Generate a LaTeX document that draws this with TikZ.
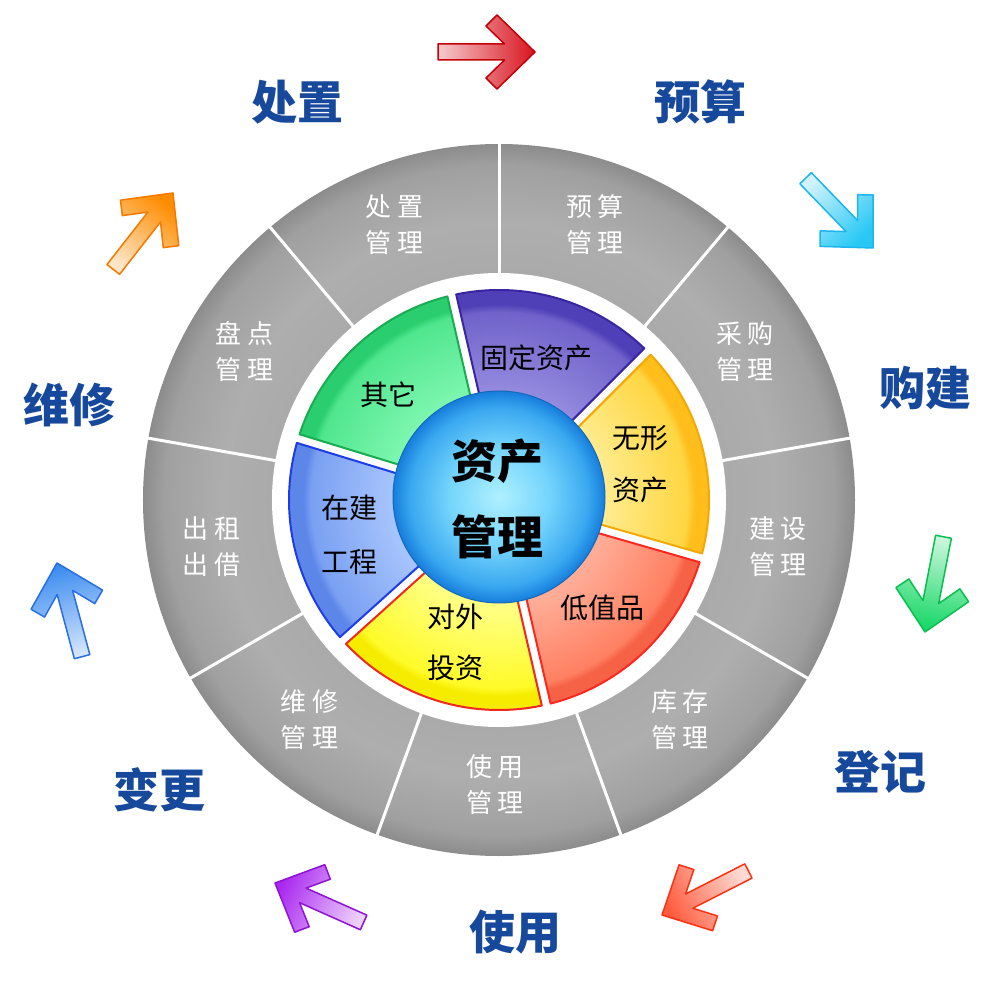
\documentclass[tikz,border=0pt]{standalone}
\usepackage{fontspec}
\setmainfont{Noto Sans CJK SC}
\definecolor{lbl}{RGB}{22,72,155}
% sector colours
\definecolor{puL}{RGB}{148,138,222}\definecolor{puM}{RGB}{112,98,202}\definecolor{puD}{RGB}{80,64,184}\definecolor{puB}{RGB}{55,38,160}
\definecolor{grL}{RGB}{125,246,175}\definecolor{grM}{RGB}{80,230,142}\definecolor{grD}{RGB}{42,206,110}\definecolor{grB}{RGB}{25,172,82}
\definecolor{blL}{RGB}{165,195,252}\definecolor{blM}{RGB}{122,160,242}\definecolor{blD}{RGB}{92,135,232}\definecolor{blB}{RGB}{30,60,230}
\definecolor{yeL}{RGB}{255,255,130}\definecolor{yeM}{RGB}{255,250,40}\definecolor{yeD}{RGB}{246,236,0}\definecolor{yeB}{RGB}{240,40,30}
\definecolor{reL}{RGB}{255,172,150}\definecolor{reM}{RGB}{255,128,98}\definecolor{reD}{RGB}{246,98,70}\definecolor{reB}{RGB}{250,40,30}
\definecolor{orL}{RGB}{255,235,140}\definecolor{orM}{RGB}{255,214,66}\definecolor{orD}{RGB}{255,190,28}\definecolor{orB}{RGB}{245,168,0}
\definecolor{riA}{RGB}{170,170,170}\definecolor{riB}{RGB}{174,174,174}\definecolor{riC}{RGB}{160,160,160}\definecolor{riD}{RGB}{140,140,140}
\definecolor{spA}{RGB}{175,240,255}\definecolor{spB}{RGB}{115,212,252}\definecolor{spC}{RGB}{58,168,240}\definecolor{spD}{RGB}{22,125,220}
\pgfdeclareradialshading{ringshade}{\pgfpointorigin}{color(0bp)=(riA); color(16bp)=(riA); color(19.5bp)=(riB); color(23.5bp)=(riC); color(25bp)=(riD); color(50bp)=(riD)}
\pgfdeclareradialshading{sphereshade}{\pgfpointorigin}{color(0bp)=(spA); color(12bp)=(spB); color(21bp)=(spC); color(25bp)=(spD); color(50bp)=(spD)}
\pgfdeclareradialshading{shpu}{\pgfpointorigin}{color(0bp)=(puL); color(13bp)=(puL); color(22.3bp)=(puM); color(23.2bp)=(puD); color(50bp)=(puD)}
\pgfdeclareradialshading{shgr}{\pgfpointorigin}{color(0bp)=(grL); color(13bp)=(grL); color(22.3bp)=(grM); color(23.2bp)=(grD); color(50bp)=(grD)}
\pgfdeclareradialshading{shbl}{\pgfpointorigin}{color(0bp)=(blL); color(13bp)=(blL); color(22.3bp)=(blM); color(23.2bp)=(blD); color(50bp)=(blD)}
\pgfdeclareradialshading{shye}{\pgfpointorigin}{color(0bp)=(yeL); color(13bp)=(yeL); color(22.3bp)=(yeM); color(23.2bp)=(yeD); color(50bp)=(yeD)}
\pgfdeclareradialshading{shre}{\pgfpointorigin}{color(0bp)=(reL); color(13bp)=(reL); color(22.3bp)=(reM); color(23.2bp)=(reD); color(50bp)=(reD)}
\pgfdeclareradialshading{shor}{\pgfpointorigin}{color(0bp)=(orL); color(13bp)=(orL); color(22.3bp)=(orM); color(23.2bp)=(orD); color(50bp)=(orD)}
\definecolor{arRed}{RGB}{215,20,30}\definecolor{arRedB}{RGB}{195,0,10}
\definecolor{arCy}{RGB}{40,200,245}\definecolor{arCyB}{RGB}{30,180,240}
\definecolor{arGr}{RGB}{20,215,100}\definecolor{arGrB}{RGB}{10,190,80}
\definecolor{arOr}{RGB}{255,90,60}\definecolor{arOrB}{RGB}{250,50,20}
\definecolor{arPu}{RGB}{170,40,240}\definecolor{arPuB}{RGB}{140,20,210}
\definecolor{arBl}{RGB}{60,140,240}\definecolor{arBlB}{RGB}{40,110,230}
\definecolor{arYo}{RGB}{255,140,0}\definecolor{arYoB}{RGB}{245,120,0}
\newcommand\mysector[4]{%
  \pgfmathsetmacro\sa{#1+1.23}\pgfmathsetmacro\sb{#2-1.23}%
  \pgfmathsetmacro\ia{#1+3.22}\pgfmathsetmacro\ib{#2-3.22}%
  \begin{scope}
    \clip (\ia:80) -- (\sa:210) arc[start angle=\sa, end angle=\sb, radius=210] -- (\ib:80) -- cycle;
    \shade[shading=#3] (0,0) circle (211);
  \end{scope}
  \draw[#4, line width=2, line join=round] (\ia:80) -- (\sa:210) arc[start angle=\sa, end angle=\sb, radius=210] -- (\ib:80) -- cycle;
}
\newcommand\blockarrow[5]{%
  \begin{scope}[shift={(#1,#2)}, rotate=#3]
  \pgfmathsetmacro\shang{#3-90}%
  \shade[draw=#5, line width=1.5, line join=round, top color=#4, bottom color=#4!22!white, shading angle=\shang]
   (0,0) -- (-38,37) -- (-49,26) -- (-30.5,8) -- (-97,8) -- (-97,-8) -- (-30.5,-8) -- (-49,-26) -- (-38,-37) -- cycle;
  \end{scope}}
\begin{document}
\begin{tikzpicture}[x=1pt,y=1pt,
  outlbl/.style={text=lbl, font=\fontsize{46}{50}\selectfont\bfseries, inner sep=0},
  graylbl/.style={text=white, font=\fontsize{26}{36}\selectfont, align=center, inner sep=0},
  seclbl/.style={text=black, font=\fontsize{28}{52}\selectfont, align=center, inner sep=0},
  centerlbl/.style={text=black, font=\fontsize{46}{76}\selectfont\bfseries, align=center, inner sep=0}]
\useasboundingbox (-499,-500) rectangle (501,500);
\fill[white] (-499,-500) rectangle (501,500);
% gray ring
\shade[shading=ringshade] (0,0) circle (356);
\fill[white] (0,0) circle (227);
\foreach \a in {10,50,...,330} \draw[white, line width=3] (\a:225) -- (\a:358);
% sectors
\mysector{45}{103}{shpu}{puB}
\mysector{103}{163}{shgr}{grB}
\mysector{163}{222}{shbl}{blB}
\mysector{222}{283}{shye}{yeB}
\mysector{283}{344}{shre}{reB}
\mysector{344}{405}{shor}{orB}
% sphere
\shade[shading=sphereshade] (0,3) circle (106);
\draw[spD!85!black, line width=1] (0,3) circle (106);
% centre text
\node[centerlbl] (core) at (-2,1) {资产\\管理};
% sector labels
\node[seclbl] (fixed) at (37,142) {固定资产};
\node[seclbl] (other) at (-111,105) {其它};
\node[seclbl, font=\fontsize{28}{54}\selectfont] (build) at (-149,-35) {在建\\工程};
\node[seclbl, font=\fontsize{28}{51}\selectfont] (invest) at (-44,-142) {对外\\投资};
\node[seclbl] (lowval) at (103,-108) {低值品};
\node[seclbl] (intang) at (141,36) {无形\\资产};
% ring labels
\node[graylbl] (g1) at (-104,275) {处\hspace{6pt}置\\管\hspace{6pt}理};
\node[graylbl] (g2) at (96,275) {预\hspace{6pt}算\\管\hspace{6pt}理};
\node[graylbl] (g3) at (246,148) {采\hspace{6pt}购\\管\hspace{6pt}理};
\node[graylbl] (g4) at (279,-47) {建\hspace{6pt}设\\管\hspace{6pt}理};
\node[graylbl] (g5) at (181,-220) {库\hspace{6pt}存\\管\hspace{6pt}理};
\node[graylbl] (g6) at (-4,-285) {使\hspace{6pt}用\\管\hspace{6pt}理};
\node[graylbl] (g7) at (-189,-220) {维\hspace{6pt}修\\管\hspace{6pt}理};
\node[graylbl] (g8) at (-287,-47) {出\hspace{6pt}租\\出\hspace{6pt}借};
\node[graylbl] (g9) at (-254,148) {盘\hspace{6pt}点\\管\hspace{6pt}理};
% outer labels
\node[outlbl] (o1) at (-201,398) {处置};
\node[outlbl] (o2) at (201,398) {预算};
\node[outlbl] (o3) at (426,112) {购建};
\node[outlbl] (o4) at (381,-272) {登记};
\node[outlbl] (o5) at (16,-432) {使用};
\node[outlbl] (o6) at (-339,-290) {变更};
\node[outlbl] (o7) at (-429,95) {维修};
% arrows
\blockarrow{36}{448}{0}{arRed}{arRedB}
\blockarrow{374}{252}{-46}{arCy}{arCyB}
\blockarrow{426}{-132}{-101}{arGr}{arGrB}
\blockarrow{163}{-415}{207}{arOr}{arOrB}
\blockarrow{-224}{-383}{156}{arPu}{arPuB}
\blockarrow{-442}{-63}{105}{arBl}{arBlB}
\blockarrow{-326}{307}{52}{arYo}{arYoB}
\end{tikzpicture}
\end{document}
